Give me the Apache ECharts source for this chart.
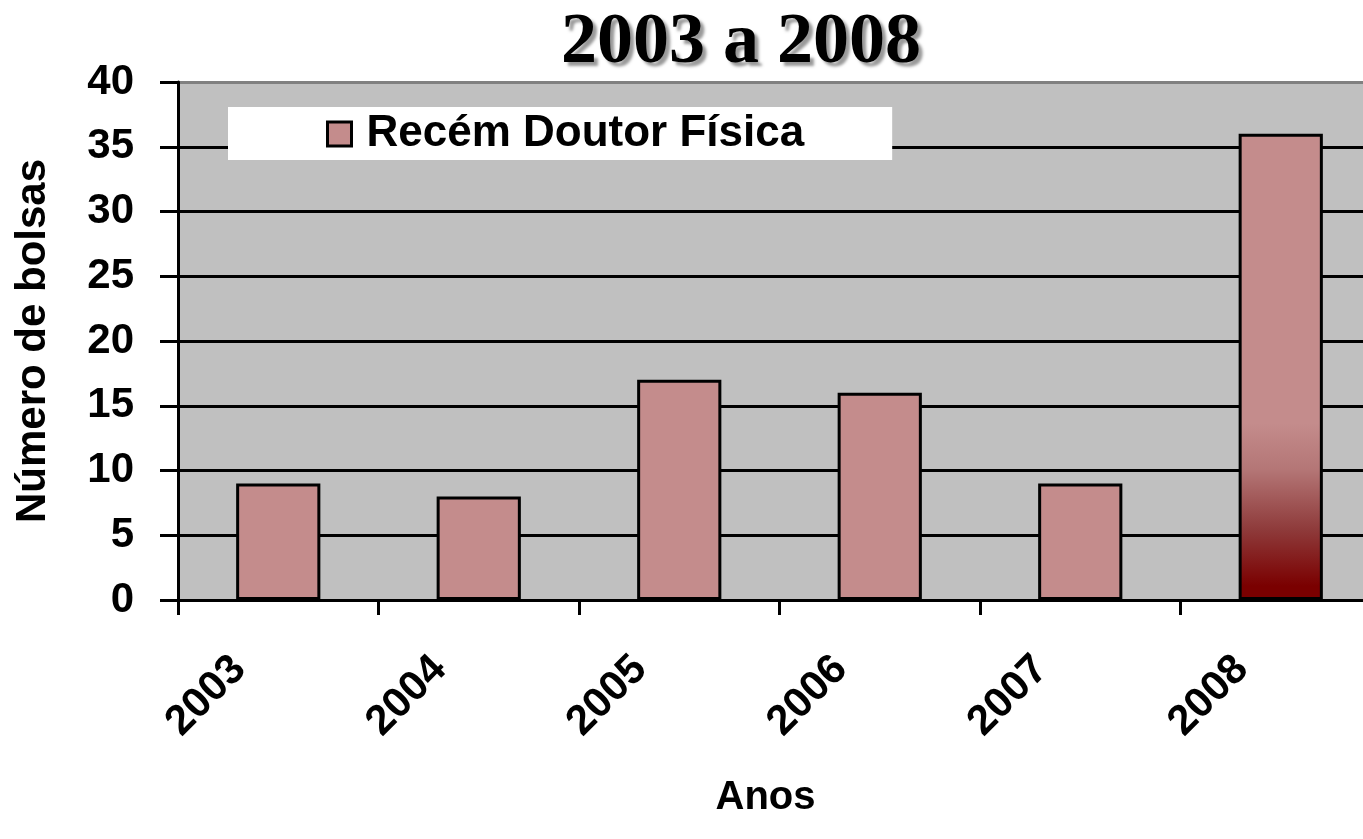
<!DOCTYPE html>
<html>
<head>
<meta charset="utf-8">
<script src="https://cdn.jsdelivr.net/npm/echarts@6/dist/echarts.min.js"></script>
<style>
  html, body { margin: 0; padding: 0; background: #fff; overflow: hidden; }
  #chartExample { width: 1384px; height: 839px; }
</style>
</head>
<body>
<div id="chartExample"></div>
<script>
// dados do gráfico
var anos = ["2003", "2004", "2005", "2006", "2007", "2008"];
var bolsas = [9, 8, 17, 16, 9, 36];
var serieNome = 'Recém Doutor Física';

var corBarra = '#C48C8C';
var fonte = 'Liberation Sans';

var myChart = echarts.init(document.getElementById("chartExample"));

// a última barra tem um degradê escuro na base
var dadosBarras = bolsas.map(function (v, i) {
    if (i === bolsas.length - 1) {
        return {
            value: v,
            itemStyle: {
                color: new echarts.graphic.LinearGradient(0, 0, 0, 1, [
                    { offset: 0, color: corBarra },
                    { offset: 0.62, color: corBarra },
                    { offset: 0.72, color: '#B47676' },
                    { offset: 0.85, color: '#8E3A3A' },
                    { offset: 0.97, color: '#7A0000' },
                    { offset: 1, color: '#7A0000' }
                ])
            }
        };
    }
    return v;
});

var option = {
    backgroundColor: '#fff',
    title: {
        text: '2003 a 2008',
        left: 736,
        textAlign: 'center',
        top: 2,
        textStyle: {
            fontFamily: 'Liberation Serif',
            fontWeight: 'bold',
            fontSize: 72,
            color: '#000',
            textShadowColor: 'rgba(0,0,0,0.4)',
            textShadowOffsetX: 4,
            textShadowOffsetY: 4,
            textShadowBlur: 3
        }
    },
    legend: {
        data: [serieNome],
        left: 228,
        top: 107,
        orient: 'horizontal',
        backgroundColor: '#fff',
        padding: [5, 88, 4, 98],
        itemWidth: 24,
        itemHeight: 24,
        icon: 'rect',
        itemStyle: { borderColor: '#000', borderWidth: 3 },
        textStyle: {
            fontFamily: fonte,
            fontWeight: 'bold',
            fontSize: 44,
            color: '#000',
            padding: [0, 0, 0, 10]
        }
    },
    grid: {
        left: 178,
        right: 3,
        top: 82,
        bottom: 239,
        show: true,
        backgroundColor: '#C0C0C0',
        borderWidth: 0
    },
    xAxis: {
        type: 'category',
        data: anos,
        name: 'Anos',
        nameLocation: 'middle',
        nameGap: 178,
        nameTextStyle: {
            fontFamily: fonte,
            fontWeight: 'bold',
            fontSize: 40,
            color: '#000',
            padding: [0, 28, 0, 0]
        },
        axisLine: { lineStyle: { color: '#000', width: 3 } },
        axisTick: { show: true, length: 15, lineStyle: { color: '#000', width: 3 } },
        axisLabel: {
            rotate: 45,
            margin: 24,
            padding: [0, 55, 0, 0],
            fontFamily: fonte,
            fontWeight: 'bold',
            fontSize: 42,
            color: '#000'
        }
    },
    yAxis: {
        type: 'value',
        min: 0,
        max: 40,
        interval: 5,
        name: 'Número de bolsas',
        nameLocation: 'middle',
        nameGap: 124,
        nameTextStyle: {
            fontFamily: fonte,
            fontWeight: 'bold',
            fontSize: 42,
            color: '#000'
        },
        axisLine: { show: true, lineStyle: { color: '#000', width: 3 } },
        axisTick: { show: true, length: 18, lineStyle: { color: '#000', width: 3 } },
        axisLabel: {
            margin: 44,
            fontFamily: fonte,
            fontWeight: 'bold',
            fontSize: 42,
            color: '#000'
        },
        splitLine: {
            show: true,
            lineStyle: {
                color: ['#000', '#000', '#000', '#000', '#000', '#000', '#000', '#000', '#808080'],
                width: 3
            }
        }
    },
    series: [{
        name: serieNome,
        type: 'bar',
        barWidth: '42%',
        data: dadosBarras,
        itemStyle: {
            color: corBarra,
            borderColor: '#000',
            borderWidth: 3
        }
    }]
};

myChart.setOption(option);
</script>
</body>
</html>
